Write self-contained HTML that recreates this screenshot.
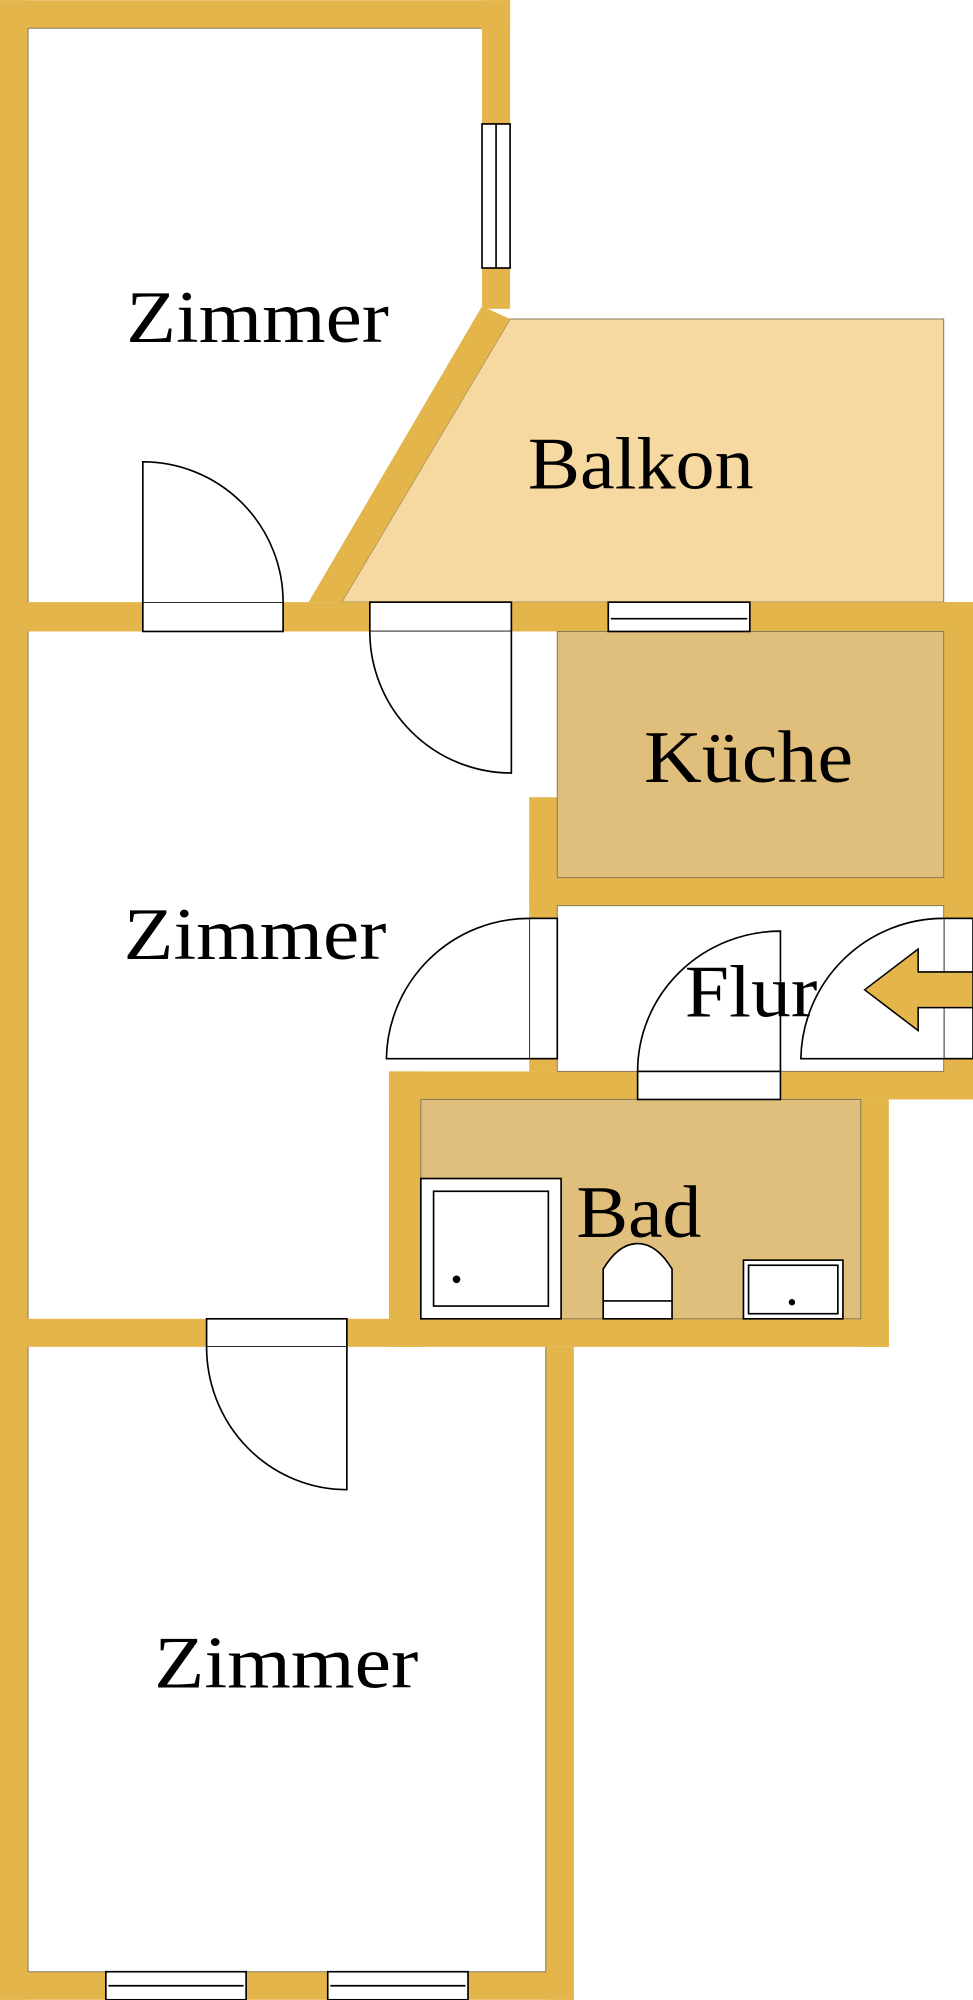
<!DOCTYPE html>
<html><head><meta charset="utf-8"><style>
html,body{margin:0;padding:0;background:#fff;}
svg{display:block;}
text{font-family:"Liberation Serif",serif;fill:#000;}
</style></head><body>
<svg width="973" height="2000" viewBox="0 0 763 1568" xmlns="http://www.w3.org/2000/svg">
<rect width="763" height="1568" fill="#fff"/>
<!-- Balkon -->
<polygon points="400,250 740,250 740,472 268,472" fill="#F6D9A0" stroke="#8a7a5a" stroke-width="0.8"/>
<!-- walls -->
<g fill="#E4B54A">
<rect x="0" y="0" width="22" height="1568"/>
<rect x="0" y="0" width="400" height="22"/>
<rect x="378" y="0" width="22" height="242"/>
<polygon points="378,240 400,250 268,472 242,472"/>
<rect x="0" y="472" width="763" height="23"/>
<rect x="740" y="472" width="23" height="390"/>
<rect x="415" y="625" width="22" height="215"/>
<rect x="415" y="688" width="348" height="22"/>
<rect x="305" y="840" width="458" height="22"/>
<rect x="305" y="840" width="25" height="216"/>
<rect x="675" y="862" width="22" height="194"/>
<rect x="0" y="1034" width="697" height="22"/>
<rect x="428" y="1056" width="22" height="512"/>
<rect x="0" y="1546" width="450" height="22"/>
</g>
<!-- rooms -->
<rect x="437" y="495" width="303" height="193" fill="#E0BE7C" stroke="#8a7a5a" stroke-width="0.8"/>
<rect x="437" y="710" width="303" height="130" fill="#fff" stroke="#8a7a5a" stroke-width="0.8"/>
<rect x="330" y="862" width="345" height="172" fill="#E0BE7C" stroke="#8a7a5a" stroke-width="0.8"/>
<g fill="none" stroke="#8a7a5a" stroke-width="0.8">
<polyline points="22,472 22,22 378,22"/>
<polyline points="22,495 22,1034"/>
<polyline points="22,1056 22,1546 428,1546 428,1056"/>
</g>
<!-- doors & windows -->
<g stroke="#000" stroke-width="1.3" fill="#fff">
<!-- window top right -->
<rect x="378" y="97" width="22" height="113"/>
<line x1="389" y1="97" x2="389" y2="210"/>
<!-- door top zimmer -->
<rect x="112" y="472" width="110" height="23"/>
<path d="M112,472 L112,362 A110,110 0 0 1 222,472" fill="#fff"/>
<!-- door to middle zimmer -->
<rect x="290" y="472" width="111" height="23"/>
<path d="M401,495 L401,606 A111,111 0 0 1 290,495" fill="#fff"/>
<!-- kitchen window -->
<rect x="477" y="472" width="111" height="23"/>
<line x1="479" y1="485" x2="586" y2="485"/>
<!-- flur-zimmer door -->
<rect x="415" y="720" width="22" height="110"/>
<path d="M415,830 L303,830 A112,112 0 0 1 415,720" fill="#fff"/>
<!-- entry door -->
<rect x="740" y="720" width="23" height="110"/>
<path d="M740,830 L628,830 A112,112 0 0 1 740,720" fill="#fff"/>
<!-- bad door -->
<rect x="500" y="840" width="112" height="22"/>
<path d="M612,840 L612,730 A112,110 0 0 0 500,840" fill="none"/>
<!-- middle to bottom door -->
<rect x="162" y="1034" width="110" height="22"/>
<path d="M272,1056 L272,1168 A110,112 0 0 1 162,1056" fill="#fff"/>
<!-- bottom windows -->
<rect x="83" y="1546" width="110" height="22"/>
<line x1="85" y1="1557" x2="191" y2="1557"/>
<rect x="257" y="1546" width="110" height="22"/>
<line x1="259" y1="1557" x2="365" y2="1557"/>
<!-- shower -->
<rect x="330" y="924" width="110" height="110"/>
<rect x="340" y="934" width="90" height="90"/>
<!-- toilet -->
<path d="M473,1034 L473,995 Q485,975 500,975 Q515,975 527,995 L527,1034 Z"/>
<line x1="473" y1="1020" x2="527" y2="1020"/>
<!-- sink -->
<rect x="583" y="988" width="78" height="46"/>
<rect x="587" y="992" width="70" height="38"/>
</g>
<circle cx="358" cy="1003" r="3" fill="#000"/>
<circle cx="621" cy="1021" r="2.5" fill="#000"/>
<!-- arrow -->
<polygon points="678,776 720,744 720,762 763,762 763,790 720,790 720,808" fill="#E4B54A" stroke="#000" stroke-width="1.2"/>
<!-- labels -->
<text x="99" y="268" font-size="58" textLength="206" lengthAdjust="spacingAndGlyphs">Zimmer</text>
<text x="414" y="383" font-size="58" textLength="177" lengthAdjust="spacingAndGlyphs">Balkon</text>
<text x="505" y="613" font-size="58" textLength="164" lengthAdjust="spacingAndGlyphs">Küche</text>
<text x="97" y="752" font-size="58" textLength="206" lengthAdjust="spacingAndGlyphs">Zimmer</text>
<text x="537" y="797" font-size="58" textLength="104" lengthAdjust="spacingAndGlyphs">Flur</text>
<text x="452" y="970" font-size="58" textLength="98" lengthAdjust="spacingAndGlyphs">Bad</text>
<text x="121" y="1323" font-size="58" textLength="207" lengthAdjust="spacingAndGlyphs">Zimmer</text>
</svg>
</body></html>
